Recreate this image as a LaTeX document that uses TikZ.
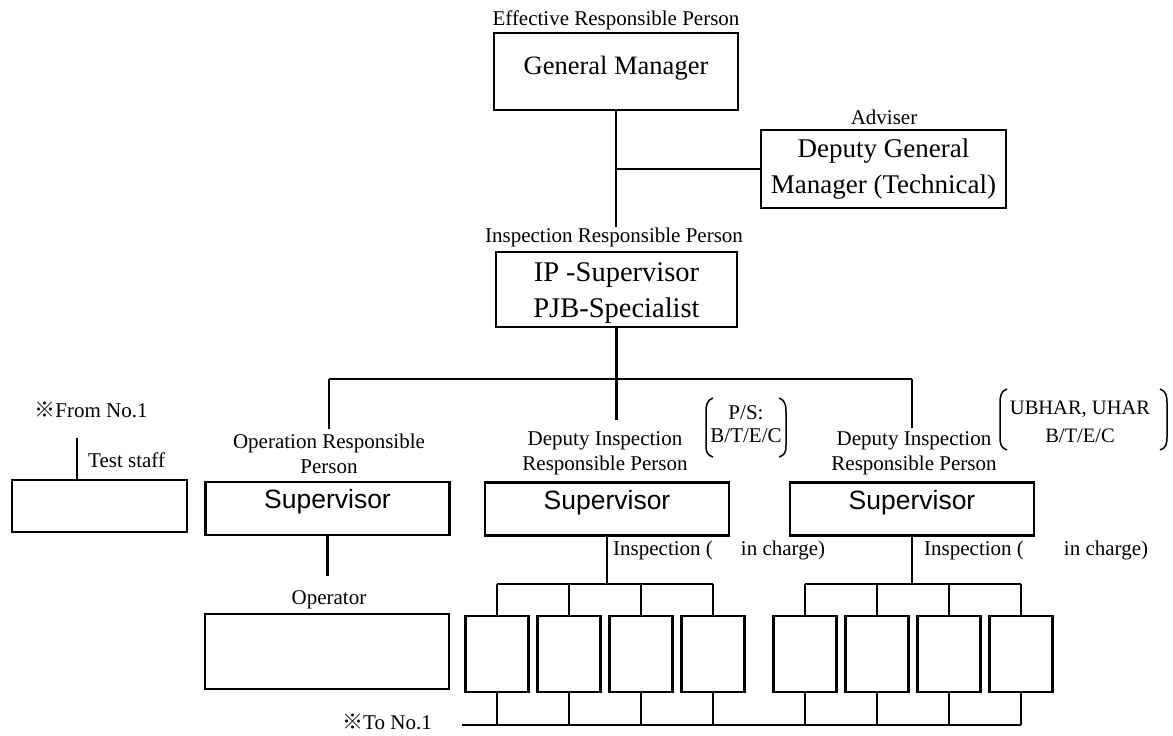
\documentclass[tikz,border=0pt]{standalone}
\usepackage{fontspec}
\setmainfont{Liberation Serif}
\newfontfamily\supfont{Liberation Sans}
\newfontfamily\markfont{Noto Sans CJK JP}
\tikzset{
  conn/.style={line width=2.1pt},
  box/.style={draw, line width=2.1pt, inner sep=0pt, align=center},
  smalltext/.style={font=\fontsize{21}{25}\selectfont, inner sep=0pt, align=center},
  bigtext/.style={font=\fontsize{27}{36}\selectfont},
  supbox/.style={box, minimum width=244pt, minimum height=53pt,
    font=\supfont\fontsize{26.5}{30}\selectfont, text height=19pt, text depth=19pt},
  unitbox/.style={box, minimum width=63pt, minimum height=76pt},
  parenline/.style={line width=1.5pt}
}
\begin{document}
\begin{tikzpicture}[x=1pt,y=-1pt]
\useasboundingbox (0,0) rectangle (1173,736);

% top management
\node[smalltext] (erp) at (616,20) {Effective Responsible Person};
\node[box, font=\fontsize{26.5}{36}\selectfont, minimum width=244pt, minimum height=77pt,
  text height=18pt, text depth=13pt] (gm) at (616,71.5) {General Manager};
\node[smalltext] (adv) at (884,117) {Adviser};
\node[box, bigtext, minimum width=245pt, minimum height=78pt] (dgm) at (883.5,169)
  {Deputy General\\Manager (Technical)};
\node[smalltext] (irp) at (614,237) {Inspection Responsible Person};
\node[box, font=\fontsize{28.5}{36}\selectfont, minimum width=241pt, minimum height=75pt]
  (ip) at (616.5,289.5) {\rule{0pt}{27pt}IP -Supervisor\\PJB-Specialist};

\draw[conn] (gm.south) -- (gm.south |- irp.north);
\draw[conn] (gm.south |- dgm.west) -- (dgm.west);

% second level
\node[smalltext] (oplab) at (329,454) {Operation Responsible\\Person};
\node[smalltext] (d1lab) at (605,453.5) {Deputy Inspection\\Responsible Person};
\node[smalltext] (d2lab) at (914,453.5) {Deputy Inspection\\Responsible Person};
\node[supbox] (op) at (327.5,508.5) {Supervisor};
\node[supbox] (d1) at (607,509) {Supervisor};
\node[supbox] (d2) at (912,509) {Supervisor};

\coordinate (busy) at (617,379);
\draw[conn] (ip.south) -- ([yshift=12pt]ip.south |- d1lab.north);
\draw[conn] (oplab.north |- busy) -- (d2.north |- busy);
\draw[conn] (oplab.north |- busy) -- ([yshift=5pt]oplab.north);
\draw[conn] (d2.north |- busy) -- ([yshift=4pt]d2.north |- d2lab.north);

% scope brackets
\node[smalltext, font=\fontsize{21}{23}\selectfont] (ps) at (746,424.5) {P/S:\\B/T/E/C};
\draw[parenline, shift={(ps.center)}]
  (-33,-26.5) .. controls (-39,-24.5) and (-40,-19.5) .. (-40,-12.5) -- (-40,20.5)
  .. controls (-40,27.5) and (-39,30.5) .. (-33,32.5);
\draw[parenline, shift={(ps.center)}]
  (33,-26.5) .. controls (39,-24.5) and (40,-19.5) .. (40,-12.5) -- (40,20.5)
  .. controls (40,27.5) and (39,30.5) .. (33,32.5);
\node[smalltext, font=\fontsize{20.5}{28}\selectfont] (uh) at (1080,422) {UBHAR, UHAR\\B/T/E/C};
\draw[parenline, shift={(uh.center)}]
  (-73,-33) .. controls (-79,-31) and (-80,-26) .. (-80,-19) -- (-80,15)
  .. controls (-80,22) and (-79,26) .. (-73,28);
\draw[parenline, shift={(uh.center)}]
  (80,-33) .. controls (86,-31) and (87,-26) .. (87,-19) -- (87,15)
  .. controls (87,22) and (86,26) .. (80,28);

% test staff
\node[smalltext] (from) at (91,410) {{\markfont ※}From No.1};
\node[smalltext, anchor=west] (tslab) at (88,460) {Test staff};
\node[box, minimum width=175pt, minimum height=52pt] (ts) at (99.5,506) {};
\coordinate (fromtop) at (77,438);
\draw[conn] (fromtop) -- (fromtop |- ts.north);

% operator
\node[smalltext] (oplb2) at (329,600) {Operator};
\node[box, minimum width=244pt, minimum height=75pt] (oper) at (327,651.5) {};
\draw[conn] (op.south) -- ([yshift=15pt]op.south |- oplb2.north);

% inspectors
\node[smalltext, anchor=west] (insp1) at (613,550) {Inspection (\hspace{28pt}in charge)};
\node[smalltext, anchor=west] (insp2) at (924,550) {Inspection (\hspace{40pt}in charge)};

\foreach \i/\x in {1/497,2/569,3/641,4/713}
  \node[unitbox] (a\i) at (\x,654) {};
\foreach \i/\x in {1/805,2/877,3/949,4/1021}
  \node[unitbox] (b\i) at (\x,654) {};

\path (d1.south) ++(0,47) coordinate (forkA);
\path (d2.south) ++(0,47) coordinate (forkB);
\draw[conn] (d1.south) -- (forkA);
\draw[conn] (d2.south) -- (forkB);
\draw[conn] (a1.north |- forkA) -- (a4.north |- forkA);
\draw[conn] (b1.north |- forkB) -- (b4.north |- forkB);
\coordinate (toend) at (462,725);
\draw[conn] (toend) -- (b4.south |- toend);
\foreach \i in {1,...,4} {
  \draw[conn] (a\i.north) -- (a\i.north |- forkA);
  \draw[conn] (b\i.north) -- (b\i.north |- forkB);
  \draw[conn] (a\i.south) -- (a\i.south |- toend);
  \draw[conn] (b\i.south) -- (b\i.south |- toend);
}
\node[smalltext] (tono) at (387,722) {{\markfont ※}To No.1};
\end{tikzpicture}
\end{document}
